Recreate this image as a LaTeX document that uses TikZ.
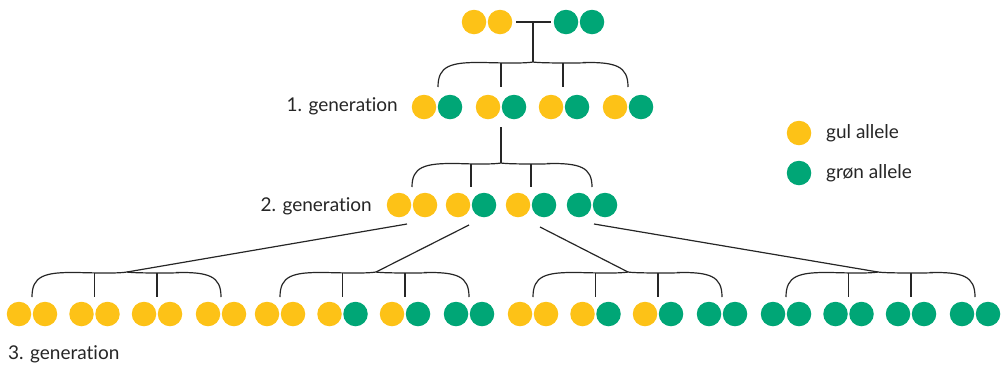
\documentclass[tikz,border=0pt]{standalone}
\usepackage{fontspec}
\setmainfont[Ligatures=NoCommon]{Lato}
\definecolor{gul}{HTML}{FDC217}
\definecolor{gron}{HTML}{00A676}
\definecolor{txt}{HTML}{262626}
\begin{document}
\begin{tikzpicture}[x=1pt,y=-1pt,
  dot/.style={circle,inner sep=0pt,minimum size=24.5pt,draw=none},
  Y/.style={dot,fill=gul},
  G/.style={dot,fill=gron},
  conn/.style={draw=black!85,line width=1.2pt},
  lbl/.style={font=\fontsize{19}{22}\selectfont,text=txt,inner sep=0pt}]
\useasboundingbox (0,0) rectangle (1008,368);
\tikzset{pics/bracex/.style n args={5}{code={
  % #1 x0, #2 x1, #3 xc, #4 y bottom, #5 y top
  \draw[conn] (#1,#4) .. controls (#1,#5+4) and (#1+12,#5) .. (#1+45,#5+0.5)
     .. controls (#3-30,#5+1) and (#3-8,#5+1.5) .. (#3,#5)
     .. controls (#3+8,#5+1.5) and (#2-30,#5+1) .. (#2-45,#5+0.5)
     .. controls (#2-12,#5) and (#2,#5+4) .. (#2,#4);
}}}
% ---- parents
\node[Y] (p1) at (474,22) {};
\node[Y] (p2) at (500,22) {};
\node[G] (p3) at (566,22) {};
\node[G] (p4) at (592,22) {};
\coordinate (pl) at (516,22);
\coordinate (pr) at (551,22);
\coordinate (pm) at (533,22);
\coordinate (b1c) at (533,62);
\draw[conn] (pl) -- (pr);
\draw[conn] (pm) -- (b1c);
\pic {bracex={438}{628}{533}{87}{62}};
\coordinate (b1t1) at (501,63);
\coordinate (b1t2) at (563,63);
\draw[conn] (b1t1) -- (501,87);
\draw[conn] (b1t2) -- (563,87);
% ---- generation 1
\node[lbl,anchor=east] (l1) at (398,106) {1. generation};
\node[Y] (a1) at (424,107) {};
\node[G] (a2) at (450,107) {};
\node[Y] (a3) at (488,107) {};
\node[G] (a4) at (514,107) {};
\node[Y] (a5) at (551,107) {};
\node[G] (a6) at (577,107) {};
\node[Y] (a7) at (615,107) {};
\node[G] (a8) at (641,107) {};
\coordinate (g1s) at (501,127);
\coordinate (b2c) at (501,163);
\draw[conn] (g1s) -- (b2c);
\pic {bracex={412}{592}{501}{187}{163}};
\draw[conn] (471,164) -- (471,187);
\draw[conn] (531,164) -- (531,187);
% ---- generation 2
\node[lbl,anchor=east] (l2) at (372,206) {2. generation};
\node[Y] (c1) at (399,205) {};
\node[Y] (c2) at (425,205) {};
\node[Y] (c3) at (458,205) {};
\node[G] (c4) at (484,205) {};
\node[Y] (c5) at (518,205) {};
\node[G] (c6) at (544,205) {};
\node[G] (c7) at (579,205) {};
\node[G] (c8) at (605,205) {};
\coordinate (s1) at (407,224);
\coordinate (s2) at (469,225);
\coordinate (s3) at (540,227);
\coordinate (s4) at (594,224);
\coordinate (e1) at (127,272);
\coordinate (e2) at (376,272);
\coordinate (e3) at (628,272);
\coordinate (e4) at (878,272);
\draw[conn] (s1) -- (e1);
\draw[conn] (s2) -- (e2);
\draw[conn] (s3) -- (e3);
\draw[conn] (s4) -- (e4);
% ---- generation 3
\foreach \gx/\ga/\gb/\gc/\gd/\ge/\gf/\gg/\gh/\gm [count=\k] in
  {32/Y/Y/Y/Y/Y/Y/Y/Y/127, 280/Y/Y/Y/G/Y/G/G/G/376, 533/Y/Y/Y/G/Y/G/G/G/628, 786/G/G/G/G/G/G/G/G/878}{
  \pic {bracex={\gx}{\gx+189}{\gm}{297}{272}};
  \draw[conn] (\gx+62.5,273) -- (\gx+62.5,297);
  \draw[conn] (\gx+125,273) -- (\gx+125,297);
  \node[\ga] (d\k-1) at (\gx-13,314) {};
  \node[\gb] (d\k-2) at (\gx+13,314) {};
  \node[\gc] (d\k-3) at (\gx+49.5,314) {};
  \node[\gd] (d\k-4) at (\gx+75.5,314) {};
  \node[\ge] (d\k-5) at (\gx+112,314) {};
  \node[\gf] (d\k-6) at (\gx+138,314) {};
  \node[\gg] (d\k-7) at (\gx+176,314) {};
  \node[\gh] (d\k-8) at (\gx+202,314) {};
}
\node[lbl,anchor=west] (l3) at (8,354) {3. generation};
% ---- legend
\node[Y] (ky) at (799,133) {};
\node[G] (kg) at (799,173) {};
\node[lbl,anchor=west] (ty) at (826,133) {gul allele};
\node[lbl,anchor=west] (tg) at (826,173) {grøn allele};
\end{tikzpicture}
\end{document}
